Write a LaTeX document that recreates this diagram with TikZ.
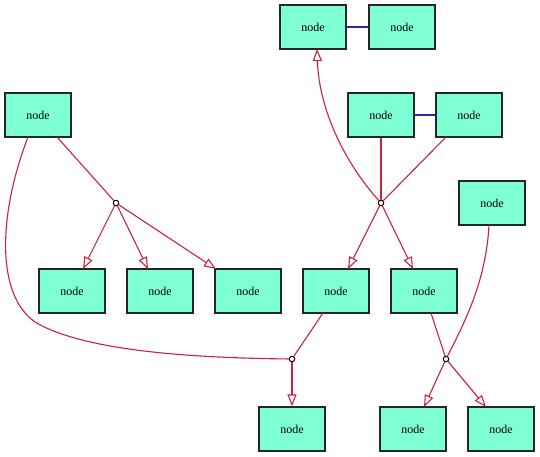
\documentclass[tikz,border=0pt]{standalone}
\usepackage{fontspec}
\setmainfont{Liberation Serif}
\usetikzlibrary{arrows.meta}
\definecolor{boxfill}{RGB}{127,255,212}
\definecolor{edgered}{RGB}{200,35,55}
\definecolor{edgeblue}{RGB}{40,40,170}
\tikzset{
  box/.style={draw=black!85, fill=boxfill, line width=1.2pt, minimum width=66pt, minimum height=44pt, inner sep=0pt, font=\fontsize{12}{14}\selectfont},
  junc/.style={circle, draw=black, fill=white, line width=1pt, minimum size=5.5pt, inner sep=0pt},
  redline/.style={draw=edgered, line width=1.1pt},
  redarrow/.style={redline, -{Triangle[open, length=12pt, width=9pt, line width=1.1pt]}},
  blueline/.style={draw=edgeblue, line width=1.3pt}
}
\begin{document}
\begin{tikzpicture}[x=1pt,y=-1pt]
\useasboundingbox (0,0) rectangle (540,456);
\node[box] (A) at (313,27) {node};
\node[box] (B) at (402,27) {node};
\node[box] (C) at (381,115) {node};
\node[box] (D) at (469,115) {node};
\node[box] (E) at (38,115) {node};
\node[box] (F) at (492,203) {node};
\node[box] (G1) at (72,291) {node};
\node[box] (G2) at (160,291) {node};
\node[box] (G3) at (248,291) {node};
\node[box] (H) at (336,291) {node};
\node[box] (I) at (424,291) {node};
\node[box] (J) at (292,429) {node};
\node[box] (K) at (413,429) {node};
\node[box] (L) at (501,429) {node};
\node[junc] (j1) at (116,203) {};
\node[junc] (j2) at (381,203) {};
\node[junc] (j3) at (292,359) {};
\node[junc] (j4) at (446,359) {};
\coordinate (Eb1) at (57,137);
\coordinate (Eb2) at (28,137);
\coordinate (Ab) at (317,49);
\coordinate (Db) at (446,137);
\coordinate (Hb) at (323,313);
\coordinate (Ib) at (431,313);
\coordinate (Fb) at (489,225);
% blue links
\draw[blueline] (A) -- (B);
\draw[blueline] (C) -- (D);
% left group
\draw[redline] (Eb1) -- (j1);
\draw[redarrow] (j1) -- (83,269);
\draw[redarrow] (j1) -- (148,269);
\draw[redarrow] (j1) -- (216,269);
\draw[redline] (Eb2) .. controls (-2,215) and (-4,295) .. (35,322) .. controls (85,352) and (200,358) .. (j3);
% middle group
\draw[redline] (C) -- (j2);
\draw[redline] (Db) -- (j2);
\draw[redarrow] (j2) .. controls (345,163) and (319,110) .. (Ab);
\draw[redarrow] (j2) -- (348,269);
\draw[redarrow] (j2) -- (413,269);
% lower
\draw[redline] (Hb) -- (j3);
\draw[redarrow] (j3) -- (J);
\draw[redline] (Ib) -- (j4);
\draw[redline] (Fb) .. controls (486,280) and (466,320) .. (j4);
\draw[redarrow] (j4) -- (424,407);
\draw[redarrow] (j4) -- (486,407);
\end{tikzpicture}
\end{document}
